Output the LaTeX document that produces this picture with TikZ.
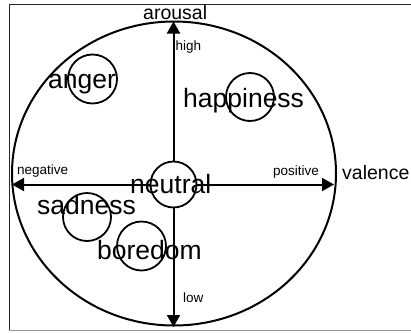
\documentclass[tikz,border=0pt]{standalone}
\usepackage{fontspec}
\setmainfont{Liberation Sans}
\usetikzlibrary{arrows.meta}
\begin{document}
\begin{tikzpicture}[x=1pt,y=-1pt,
  emo/.style={circle,draw,line width=1.8pt,minimum size=47pt,inner sep=0pt},
  big/.style={font=\fontsize{26.5}{30}\selectfont,anchor=base west,inner sep=0pt},
  small/.style={font=\fontsize{13.5}{15}\selectfont,anchor=base west,inner sep=0pt},
  axis/.style={line width=2pt,-{Triangle[length=12pt,width=13pt]}}]
\useasboundingbox (0,0) rectangle (411,332);
% frame
\draw[line width=1.4pt,black!85] (9.5,330) -- (9.5,4.3) -- (411,4.3);
\draw[line width=1.2pt,black!40] (9,330.6) -- (411,330.6);
% big ellipse
\draw[line width=2pt] (174,173.5) ellipse [x radius=162, y radius=152];
% emotion circles
\node[emo,minimum size=46pt] (neutral) at (173.5,184.5) {};
\node[emo,minimum size=49pt] (angerc) at (92.5,79) {};
\node[emo,minimum size=48pt] (happyc) at (250,97) {};
\node[emo,minimum size=48pt] (sadc) at (87,217) {};
\node[emo,minimum size=49pt] (borec) at (141.5,246) {};
% axes
\coordinate (top) at (173.5,21.5);
\coordinate (bot) at (173.5,327);
\coordinate (lft) at (12,184.5);
\coordinate (rgt) at (334,184.5);
\draw[axis] (neutral.north) -- (top);
\draw[axis] (neutral.south) -- (bot);
\draw[axis] (neutral.west) -- (lft);
\draw[axis] (neutral.east) -- (rgt);
% labels
\node[big] (anger) at (48,88) {anger};
\node[big] (happiness) at (183,107) {happiness};
\node[big] (neutraltxt) at (130,193) {neutral};
\node[big] (sadness) at (37,214) {sadness};
\node[big] (boredom) at (97,259) {boredom};
\node[font=\fontsize{19.5}{22}\selectfont,anchor=base west,inner sep=0pt] (arousal) at (143,19.5) {arousal};
\node[font=\fontsize{19.5}{22}\selectfont,anchor=base west,inner sep=0pt] (valence) at (342,179) {valence};
\node[small] (high) at (175.5,50) {high};
\node[small] (low) at (183,302) {low};
\node[small] (negative) at (17,174.5) {negative};
\node[small] (positive) at (273,175) {positive};
\end{tikzpicture}
\end{document}
